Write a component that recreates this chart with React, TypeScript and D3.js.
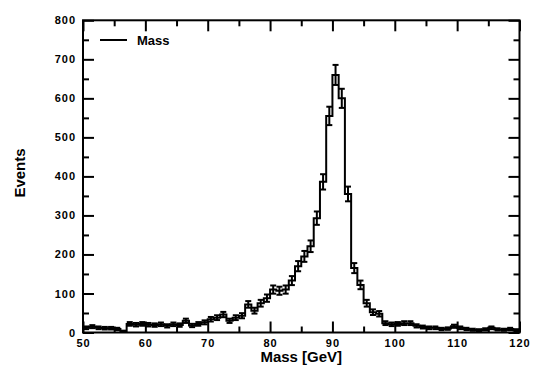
import React, { useEffect, useRef } from 'react'
import * as d3 from 'd3'

// bin edges run 50..120 GeV in 1 GeV steps
const binLow = 50
const binWidth = 1
const counts = [
  12, 15, 12, 11, 11, 9, 3, 22, 20, 22,
  20, 19, 21, 17, 21, 19, 30, 18, 22, 26,
  34, 38, 46, 30, 38, 43, 72, 56, 75, 88,
  110, 107, 110, 133, 170, 195, 221, 293, 386, 555,
  660, 600, 355, 165, 122, 75, 52, 48, 24, 21,
  22, 24, 24, 17, 14, 12, 12, 9, 10, 16,
  12, 9, 7, 6, 8, 12, 8, 7, 9, 6,
]
const xMajor = [50, 60, 70, 80, 90, 100, 110, 120]
const xMinor = [55, 65, 75, 85, 95, 105, 115]
const yMajor = [0, 100, 200, 300, 400, 500, 600, 700, 800]
const yMinor = [50, 150, 250, 350, 450, 550, 650, 750]

const font = '"Liberation Sans", Arial, Helvetica, sans-serif'

export default function App() {
  const svgRef = useRef<SVGSVGElement>(null)

  useEffect(() => {
    const svg = d3.select(svgRef.current)
    svg.selectAll('*').remove()

    const left = 83, right = 519.5, top = 20.3, bottom = 332.5

    const x = d3.scaleLinear().domain([50, 120]).range([left, right])
    const y = d3.scaleLinear().domain([0, 800]).range([bottom, top])

    const g = svg.append('g')

    // axes: ticks point inwards on all four sides
    const axes = [
      { ax: d3.axisBottom(x), t: `translate(0,${bottom})`, labels: true, maj: xMajor, min: xMinor },
      { ax: d3.axisTop(x), t: `translate(0,${top})`, labels: false, maj: xMajor, min: xMinor },
      { ax: d3.axisLeft(y), t: `translate(${left},0)`, labels: true, maj: yMajor, min: yMinor },
      { ax: d3.axisRight(y), t: `translate(${right},0)`, labels: false, maj: yMajor, min: yMinor },
    ]
    axes.forEach(a => {
      const major = g.append('g').attr('transform', a.t)
        .call(a.ax.tickValues(a.maj).tickSize(-11).tickPadding(a.labels ? 7 : 0)
          .tickFormat(a.labels ? d3.format('d') : () => ''))
      major.select('.domain').remove()
      major.selectAll('line').attr('stroke', '#000').attr('stroke-width', 2)
      major.selectAll('text')
        .attr('font-family', font).attr('font-size', 11).attr('font-weight', 'bold')
        .attr('letter-spacing', 1).attr('fill', '#000')

      const minor = g.append('g').attr('transform', a.t)
        .call(a.ax.tickValues(a.min).tickSize(-6).tickFormat(() => ''))
      minor.select('.domain').remove()
      minor.selectAll('line').attr('stroke', '#000').attr('stroke-width', 2)
    })

    // frame
    g.append('rect')
      .attr('x', left).attr('y', top)
      .attr('width', right - left).attr('height', bottom - top)
      .attr('fill', 'none').attr('stroke', '#000').attr('stroke-width', 2)

    // histogram outline
    const pts: [number, number][] = [[x(binLow), y(0)]]
    counts.forEach((c, i) => {
      const x0 = binLow + i * binWidth
      pts.push([x(x0), y(c)])
      pts.push([x(x0 + binWidth), y(c)])
    })
    pts.push([x(binLow + counts.length * binWidth), y(0)])
    g.append('path')
      .attr('d', d3.line()(pts))
      .attr('fill', 'none').attr('stroke', '#000').attr('stroke-width', 2)

    // error bars (sqrt N)
    const cap = 3
    const eb = g.append('g').attr('stroke', '#000').attr('stroke-width', 2)
    counts.forEach((c, i) => {
      const cx = x(binLow + (i + 0.5) * binWidth)
      const e = Math.sqrt(c)
      const y1 = y(c + e), y2 = y(Math.max(0, c - e))
      eb.append('line').attr('x1', cx).attr('x2', cx).attr('y1', y1).attr('y2', y2)
      eb.append('line').attr('x1', cx - cap).attr('x2', cx + cap).attr('y1', y1).attr('y2', y1)
      eb.append('line').attr('x1', cx - cap).attr('x2', cx + cap).attr('y1', y2).attr('y2', y2)
    })

    // legend
    g.append('line').attr('x1', 100).attr('x2', 127).attr('y1', 40).attr('y2', 40)
      .attr('stroke', '#000').attr('stroke-width', 2)
    g.append('text').attr('x', 137).attr('y', 44.5).text('Mass')
      .attr('font-family', font).attr('font-size', 13).attr('font-weight', 'bold')

    // axis titles
    g.append('text').attr('x', (left + right) / 2).attr('y', 362)
      .attr('text-anchor', 'middle').text('Mass [GeV]')
      .attr('font-family', font).attr('font-size', 15).attr('font-weight', 'bold')
    g.append('text')
      .attr('transform', 'translate(25,173) rotate(-90)')
      .attr('text-anchor', 'middle').text('Events')
      .attr('font-family', font).attr('font-size', 15).attr('font-weight', 'bold')
  }, [])

  return (
    <svg ref={svgRef} width={536} height={374}
      style={{ position: 'absolute', left: 0, top: 0, background: '#fff' }} />
  )
}
